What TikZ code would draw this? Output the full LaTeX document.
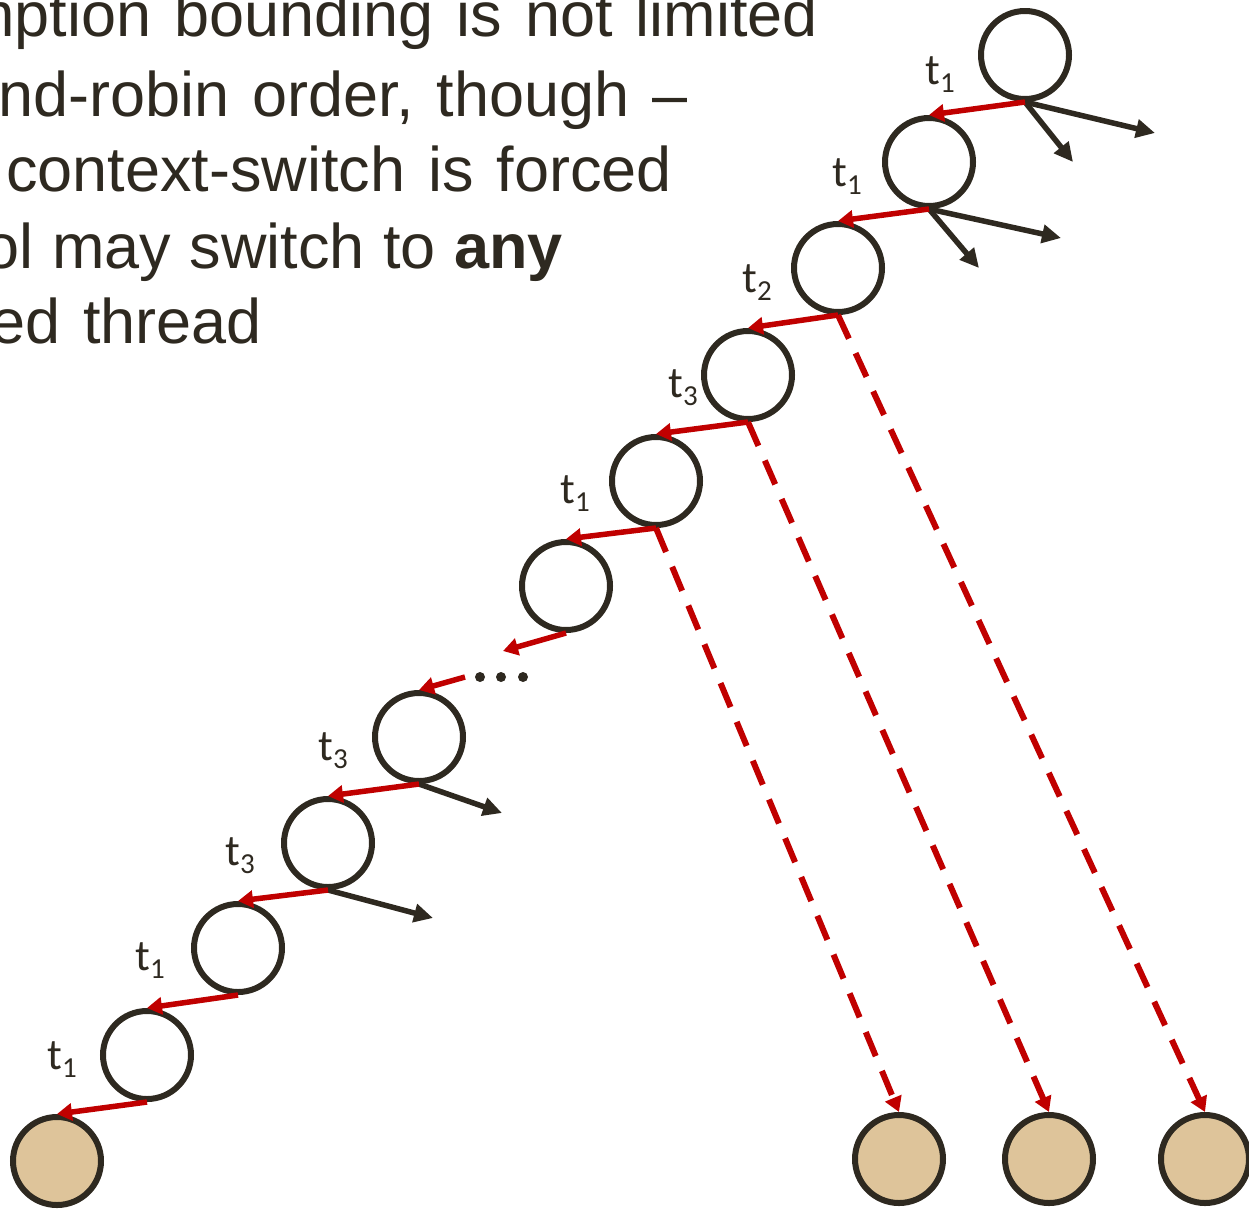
\documentclass[tikz,border=0pt]{standalone}
\usepackage{fontspec}
\setmainfont{Liberation Sans}
\newfontfamily\labelfont{Carlito}
\usetikzlibrary{arrows.meta}
\definecolor{ink}{RGB}{46,41,32}
\definecolor{redline}{RGB}{192,0,0}
\definecolor{leaftan}{RGB}{222,196,154}
\newcommand{\tl}[1]{t\raisebox{-8pt}{\fontsize{29}{29}\selectfont #1}}
\newcommand{\bodyfont}{\fontsize{63}{77}\selectfont\spaceskip=23pt\relax}
\newcommand{\narrowsp}{\spaceskip=18.5pt\relax}
\begin{document}
\begin{tikzpicture}[x=1pt,y=-1pt,
 state/.style={circle,draw=ink,line width=6pt,minimum size=88pt,inner sep=0pt},
 leaf/.style={state,fill=leaftan},
 redarrow/.style={draw=redline,line width=5.5pt,-{Triangle[length=15pt,width=17pt]}},
 dashedarrow/.style={redarrow,line width=6pt,dash pattern=on 26pt off 16pt},
 blackarrow/.style={draw=ink,line width=5.5pt,-{Triangle[length=19pt,width=18pt]}},
 lbl/.style={font=\labelfont\fontsize{44}{50}\selectfont,text=ink,inner sep=0pt},
 body/.style={font=\bodyfont,text=ink,inner sep=0pt,anchor=base east},
 dot/.style={circle,fill=ink,minimum size=10pt,inner sep=0pt}]
\useasboundingbox (0,0) rectangle (1249,1211);
\clip (0,0) rectangle (1249,1211);

% body text (cut off at the left edge)
\node[body] (line1) at (818,36) {mption bounding is not limited};
\node[body] (line2) at (688,116) {nd-robin order, though --};
\node[body] (line3) at (672,191) {context-switch is forced};
\node[body] (line4) at (563,268) {\narrowsp ol may switch to \textbf{any}};
\node[body] (line5) at (262,343) {ed thread};

% states
\node[state] (c1) at (1025,55) {};
\node[state] (c2) at (929,162) {};
\node[state] (c3) at (838,268) {};
\node[state] (c4) at (748,375) {};
\node[state] (c5) at (656,481) {};
\node[state] (c6) at (566,586) {};
\node[state] (c7) at (419,737) {};
\node[state] (c8) at (328,843) {};
\node[state] (c9) at (238,948) {};
\node[state] (c10) at (147,1055) {};

% leaves
\node[leaf] (l0) at (57,1161) {};
\node[leaf] (l1) at (899,1159) {};
\node[leaf] (l2) at (1049,1159) {};
\node[leaf] (l3) at (1205,1159) {};

% dots
\node[dot] (dA) at (480,677) {};
\node[dot] (dB) at (501,677) {};
\node[dot] (dC) at (523,677) {};
\coordinate (dIn) at (503,651);
\coordinate (dOut) at (465,677);

% labels
\node[lbl] (t1a) at (940,75) {\tl{1}};
\node[lbl] (t1b) at (847,177) {\tl{1}};
\node[lbl] (t2a) at (757,283) {\tl{2}};
\node[lbl] (t3a) at (683,388) {\tl{3}};
\node[lbl] (t1c) at (575,494) {\tl{1}};
\node[lbl] (t3b) at (333,751) {\tl{3}};
\node[lbl] (t3c) at (240,856) {\tl{3}};
\node[lbl] (t1d) at (150,961) {\tl{1}};
\node[lbl] (t1e) at (62,1060) {\tl{1}};

% side branches
\coordinate (b1a) at (1155,133);
\coordinate (b1b) at (1073,162);
\coordinate (b2a) at (1061,238);
\coordinate (b2b) at (979,268);
\coordinate (b7) at (502,813);
\coordinate (b8) at (433,918);
\draw[blackarrow] (c1.south) -- (b1a);
\draw[blackarrow] (c1.south) -- (b1b);
\draw[blackarrow] (c2.south) -- (b2a);
\draw[blackarrow] (c2.south) -- (b2b);
\draw[blackarrow] (c7.south) -- (b7);
\draw[blackarrow] (c8.south) -- (b8);

% dashed jumps
\draw[dashedarrow] (c3.south) -- (l3.north);
\draw[dashedarrow] (c4.south) -- (l2.north);
\draw[dashedarrow] (c5.south) -- (l1.north);

% main chain
\draw[redarrow] (c1.south) -- (c2.north);
\draw[redarrow] (c2.south) -- (c3.north);
\draw[redarrow] (c3.south) -- (c4.north);
\draw[redarrow] (c4.south) -- (c5.north);
\draw[redarrow] (c5.south) -- (c6.north);
\draw[redarrow] (c6.south) -- (dIn);
\draw[redarrow] (dOut) -- (c7.north);
\draw[redarrow] (c7.south) -- (c8.north);
\draw[redarrow] (c8.south) -- (c9.north);
\draw[redarrow] (c9.south) -- (c10.north);
\draw[redarrow] (c10.south) -- (l0.north);
\end{tikzpicture}
\end{document}
